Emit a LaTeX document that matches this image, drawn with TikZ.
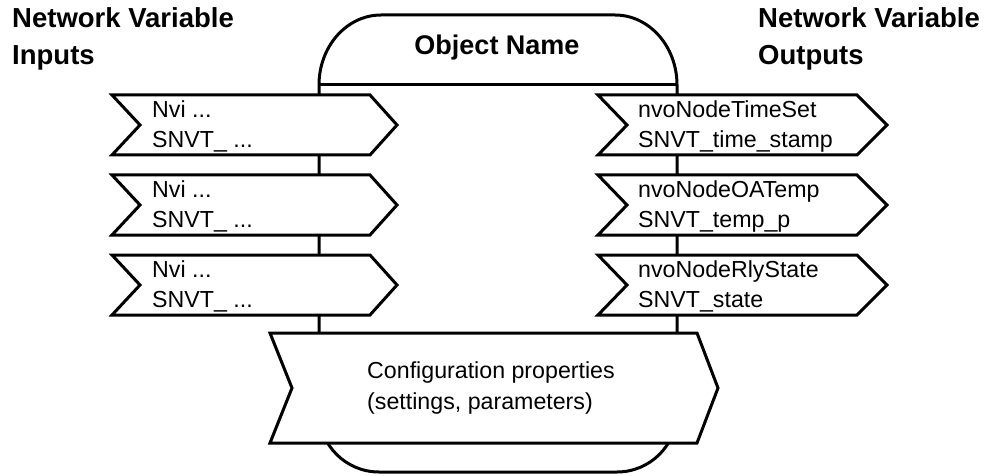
\documentclass[tikz,border=0pt]{standalone}
\usepackage{fontspec}
\setmainfont{Liberation Sans}
\begin{document}
\tikzset{
  outline/.style={line width=3pt, line join=miter},
  flagbox/.style={outline, fill=white},
  bodytext/.style={font=\fontsize{23.2}{30}\selectfont, inner sep=0pt, anchor=base west},
  headtext/.style={font=\fontsize{27.5}{30}\selectfont\bfseries, inner sep=0pt, anchor=base west},
}
\begin{tikzpicture}[x=1pt, y=-1pt]
\useasboundingbox (0,0) rectangle (991,476);

% object body with rounded corners and header divider
\draw[outline] (319,85) -- (319,412)
  .. controls (319,445.1) and (345.9,472) .. (379,472) -- (617,472)
  .. controls (650.1,472) and (677,445.1) .. (677,412) -- (677,85)
  .. controls (677,46.3) and (649.2,15) .. (615,15) -- (381,15)
  .. controls (346.8,15) and (319,46.3) .. (319,85) -- cycle;
\draw[outline] (319,85) -- (677,85);
\node[font=\fontsize{27}{30}\selectfont\bfseries, inner sep=0pt, anchor=base] (objname) at (497,55) {Object Name};

% headings
\node[headtext] (inhead1) at (12,28) {Network Variable};
\node[headtext] (inhead2) at (12,65) {Inputs};
\node[headtext] (outhead1) at (758,28) {Network Variable};
\node[headtext] (outhead2) at (758,65) {Outputs};

% input variables
\foreach \i/\t in {1/95,2/175,3/255}{
  \draw[flagbox] (112,\t) -- (370,\t) -- (397,\t+30) -- (370,\t+60) -- (112,\t+60) -- (140,\t+30) -- cycle;
  \node[bodytext] (nvi\i) at (152,\t+22.5) {Nvi ...};
  \node[bodytext] (nvitype\i) at (152,\t+52.5) {SNVT\_ ...};
}

% output variables
\foreach \i/\t/\n/\s in {1/95/nvoNodeTimeSet/SNVT\_time\_stamp,
                         2/175/nvoNodeOATemp/SNVT\_temp\_p,
                         3/255/nvoNodeRlyState/SNVT\_state}{
  \draw[flagbox] (598,\t) -- (857,\t) -- (887,\t+30) -- (857,\t+60) -- (598,\t+60) -- (627,\t+30) -- cycle;
  \node[bodytext] (nvo\i) at (638,\t+22.5) {\n};
  \node[bodytext] (nvotype\i) at (638,\t+52.5) {\s};
}

% configuration properties
\draw[flagbox] (270,333) -- (697,333) -- (718,388) -- (697,443) -- (270,443) -- (292,388) -- cycle;
\node[bodytext] (cfg1) at (367,378) {Configuration properties};
\node[bodytext] (cfg2) at (367,409) {(settings, parameters)};
\end{tikzpicture}
\end{document}
